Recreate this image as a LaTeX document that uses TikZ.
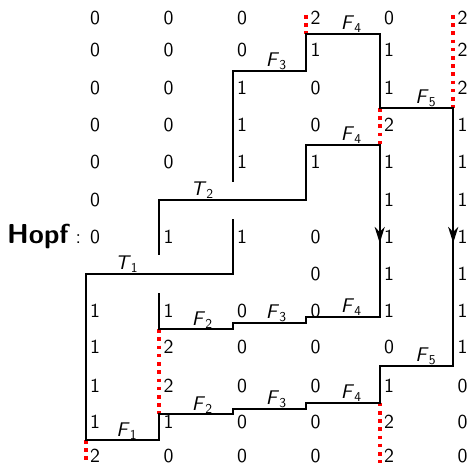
\documentclass[tikz,border=0pt]{standalone}
\usepackage{fontspec}
\setsansfont{lmsans10-regular.otf}[BoldFont=lmsans10-bold.otf, ItalicFont=lmsans10-oblique.otf, BoldItalicFont=lmsans10-boldoblique.otf]
\usetikzlibrary{arrows.meta}
\newcommand\lab[2]{\textit{#1}\raisebox{-3pt}{\fontsize{13.5}{14}\selectfont #2}}
\newcommand\digitrow[3]{%
  \foreach \v [count=\c from 0] in {#3} {%
    \if\v x\else
      \node[dig] (d#1-\c) at ({85.7+73.5*\c+9.3},{#2+6.4}) {\v};
    \fi
  }}
\begin{document}
\begin{tikzpicture}[x=1pt,y=-1pt,
  font=\fontsize{19.8}{22}\selectfont\sffamily,
  wire/.style={line width=2.2pt, line join=miter},
  reddots/.style={red, line width=3.6pt, dash pattern=on 3.6pt off 4.6pt},
  dig/.style={inner sep=0pt, anchor=base},
  lbl/.style={inner sep=0pt, anchor=base},
  tip/.style={line width=2.2pt, -{Stealth[length=16pt,width=10pt,inset=5pt]}}
]
\useasboundingbox (0,0) rectangle (469,465);

% red dotted segments
\draw[reddots] (306.2,15) -- (306.2,34);
\draw[reddots] (453.2,15) -- (453.2,108);
\draw[reddots] (379.7,108) -- (379.7,145);
\draw[reddots] (159.2,329.3) -- (159.2,414.3);
\draw[reddots] (85.7,440) -- (85.7,463);
\draw[reddots] (379.7,402.7) -- (379.7,463);

% black paths
\draw[wire] (232.7,182) -- (232.7,71) -- (306.2,71) -- (306.2,34) -- (379.7,34)
  -- (379.7,108) -- (453.2,108) -- (453.2,366) -- (379.7,366) -- (379.7,402.7)
  -- (306.2,402.7) -- (306.2,408.7) -- (232.7,408.7) -- (232.7,414.3)
  -- (159.2,414.3) -- (159.2,440) -- (85.7,440) -- (85.7,274) -- (232.7,274)
  -- (232.7,219);
\draw[wire] (159.2,255) -- (159.2,200) -- (306.2,200) -- (306.2,145) -- (379.7,145)
  -- (379.7,316.7) -- (306.2,316.7) -- (306.2,322.7) -- (232.7,322.7)
  -- (232.7,329.3) -- (159.2,329.3) -- (159.2,293);

% arrow tips
\draw[tip] (379.7,225) -- (379.7,243);
\draw[tip] (453.2,225) -- (453.2,243);

% digits
\digitrow{0}{18.3}{0,0,0,2,0,2}
\digitrow{1}{50.3}{0,0,0,1,1,2}
\digitrow{2}{88.3}{0,0,1,0,1,2}
\digitrow{3}{125}{0,0,1,0,2,1}
\digitrow{4}{162.5}{0,0,1,1,1,1}
\digitrow{5}{200}{0,x,x,x,1,1}
\digitrow{6}{237.5}{0,1,1,0,1,1}
\digitrow{7}{274}{x,x,x,0,1,1}
\digitrow{8}{311}{1,1,0,0,1,1}
\digitrow{9}{347.5}{1,2,0,0,0,1}
\digitrow{10}{386}{1,2,0,0,1,0}
\digitrow{11}{422.5}{1,1,0,0,2,0}
\digitrow{12}{456.3}{2,0,0,0,2,0}

% labels
\node[lbl] (F4a) at (351,30) {\lab{F}{4}};
\node[lbl] (F3a) at (276,67) {\lab{F}{3}};
\node[lbl] (F5a) at (425.5,104) {\lab{F}{5}};
\node[lbl] (F4b) at (351,141) {\lab{F}{4}};
\node[lbl] (T2) at (202,196) {\lab{T}{2}};
\node[lbl] (T1) at (126.5,270) {\lab{T}{1}};
\node[lbl] (F2a) at (202,325.3) {\lab{F}{2}};
\node[lbl] (F3b) at (276,318.7) {\lab{F}{3}};
\node[lbl] (F4c) at (351,312.7) {\lab{F}{4}};
\node[lbl] (F5b) at (425.5,362) {\lab{F}{5}};
\node[lbl] (F2b) at (202,410.3) {\lab{F}{2}};
\node[lbl] (F3c) at (276,404.7) {\lab{F}{3}};
\node[lbl] (F4d) at (351,398.7) {\lab{F}{4}};
\node[lbl] (F1) at (126.5,436) {\lab{F}{1}};

% Hopf
\node[inner sep=0pt, anchor=base west, font=\fontsize{27.4}{30}\selectfont\sffamily\bfseries] (hopf) at (7,243.5) {Hopf};
\node[inner sep=0pt, anchor=base] (colon) at (78.5,243.5) {:};
\end{tikzpicture}
\end{document}
